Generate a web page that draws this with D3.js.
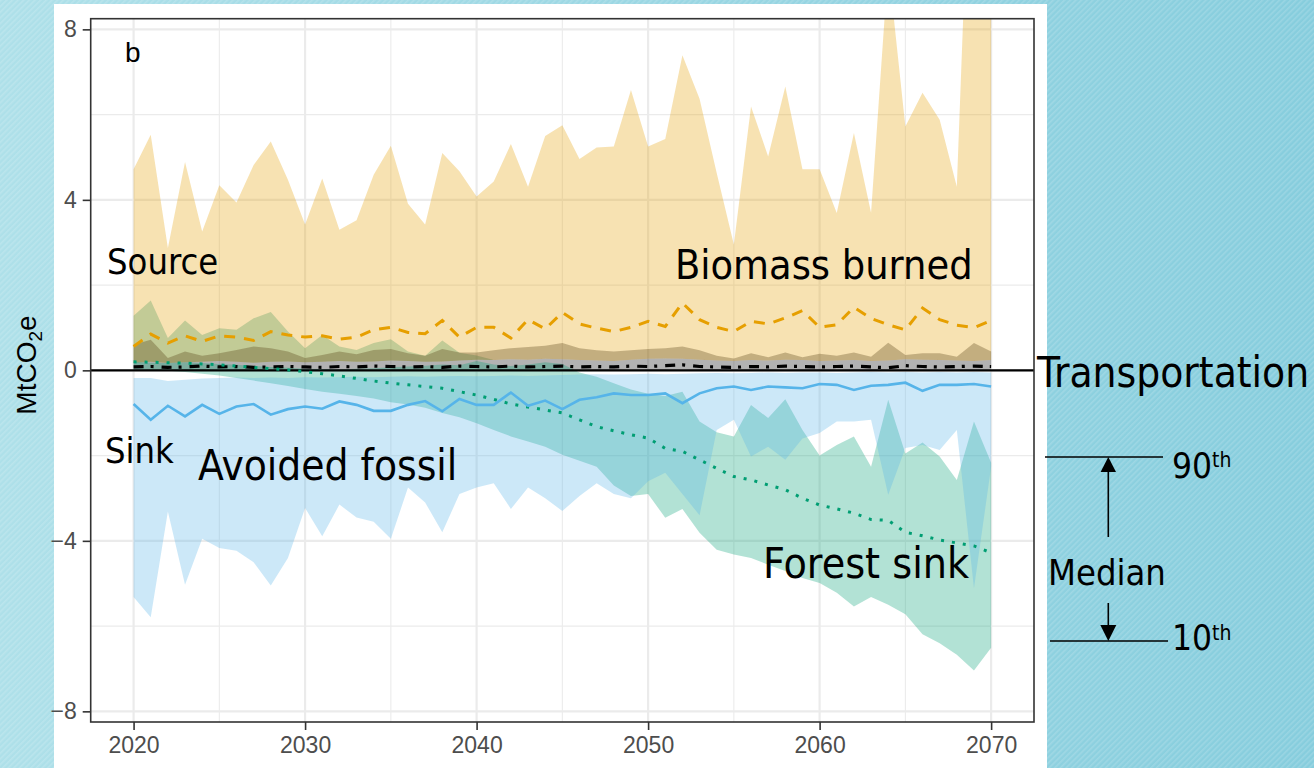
<!DOCTYPE html>
<html>
<head>
<meta charset="utf-8">
<script src="https://cdn.jsdelivr.net/npm/d3@7"></script>
<style>
  html, body { margin: 0; padding: 0; overflow: hidden; }
  svg { display: block; }
  .ann { font-family: "DejaVu Sans Condensed", "DejaVu Sans", sans-serif; font-stretch: condensed; fill: #000; }
  .tick text { font-family: "Liberation Sans", Arial, sans-serif; font-size: 23px; fill: #4d4d4d; }
</style>
</head>
<body>
<svg id="chart" width="1314" height="768"></svg>
<script>
// ---- data (MtCO2e per year; 10th percentile / median / 90th percentile) ----
const years = [2020,2021,2022,2023,2024,2025,2026,2027,2028,2029,
               2030,2031,2032,2033,2034,2035,2036,2037,2038,2039,
               2040,2041,2042,2043,2044,2045,2046,2047,2048,2049,
               2050,2051,2052,2053,2054,2055,2056,2057,2058,2059,
               2060,2061,2062,2063,2064,2065,2066,2067,2068,2069,2070];

const biomassHi = [4.72,5.53,2.87,4.89,3.26,4.34,3.94,4.82,5.37,4.47,
                   3.42,4.50,3.30,3.52,4.59,5.27,3.91,3.42,5.10,4.67,
                   4.08,4.43,5.31,4.31,5.50,5.75,4.96,5.23,5.25,6.58,
                   5.25,5.43,7.39,6.37,4.63,2.95,6.19,5.02,6.66,4.72,
                   4.72,3.69,5.57,3.70,9.50,5.72,6.51,5.88,4.31,15.0,12.0];
const biomassMed = [0.56,0.85,0.64,0.81,0.68,0.81,0.78,0.70,0.91,0.83,
                    0.78,0.81,0.73,0.78,0.95,1.01,0.89,0.86,1.17,0.78,
                    1.01,1.01,0.76,1.19,0.97,1.36,1.09,0.99,0.91,1.01,
                    1.15,1.03,1.58,1.19,1.01,0.91,1.15,1.09,1.23,1.40,
                    1.01,1.07,1.48,1.22,1.07,0.95,1.46,1.19,1.06,1.00,1.17];

const residueHi = [1.28,1.64,0.76,1.17,0.83,0.99,0.95,1.22,1.37,0.91,
                   0.52,0.83,0.56,0.48,0.64,0.73,0.44,0.34,0.70,0.41,
                   0.35,0.24,0.25,0.24,0.26,0.25,0.23,0.22,0.21,0.24,
                   0.26,0.27,0.26,0.24,0.22,0.21,0.23,0.22,0.24,0.23,
                   0.21,0.22,0.23,0.21,0.22,0.25,0.24,0.23,0.22,0.21,0.23];
const decayHi = [0.60,0.72,0.29,0.44,0.34,0.40,0.48,0.56,0.52,0.44,
                 0.29,0.36,0.44,0.38,0.48,0.50,0.40,0.34,0.50,0.42,
                 0.42,0.47,0.52,0.55,0.58,0.64,0.52,0.47,0.44,0.47,
                 0.50,0.52,0.56,0.47,0.34,0.28,0.40,0.31,0.42,0.31,
                 0.39,0.34,0.42,0.32,0.65,0.36,0.40,0.40,0.32,0.64,0.44];

const transportHi = [0.18,0.20,0.17,0.19,0.20,0.22,0.20,0.18,0.20,0.21,
                     0.19,0.20,0.22,0.20,0.21,0.23,0.22,0.20,0.21,0.23,
                     0.25,0.24,0.26,0.25,0.27,0.26,0.24,0.23,0.22,0.25,
                     0.27,0.28,0.27,0.25,0.23,0.22,0.24,0.23,0.25,0.24,
                     0.22,0.23,0.24,0.22,0.23,0.26,0.25,0.24,0.23,0.22,0.24];
const transportMed = [0.08,0.09,0.07,0.08,0.10,0.08,0.09,0.07,0.08,0.09,
                      0.08,0.07,0.09,0.08,0.10,0.09,0.08,0.09,0.07,0.10,
                      0.09,0.08,0.10,0.08,0.09,0.10,0.08,0.09,0.08,0.10,
                      0.09,0.11,0.13,0.09,0.08,0.07,0.09,0.08,0.10,0.09,
                      0.08,0.09,0.10,0.08,0.06,0.11,0.09,0.08,0.09,0.10,0.09];
const transportLo = [0.01,0.01,0.02,0.01,0.01,0.02,0.01,0.01,0.02,0.01,
                     0.01,0.02,0.01,0.01,0.02,0.01,0.01,0.02,0.01,0.01,
                     0.02,0.01,0.01,0.02,0.01,0.01,0.02,0.01,0.01,0.02,
                     0.01,0.01,0.02,0.01,0.01,0.02,0.01,0.01,0.02,0.01,
                     0.01,0.02,0.01,0.01,0.02,0.01,0.01,0.02,0.01,0.01,0.02];

const forestHi = [0.20,0.18,0.17,0.19,0.17,0.15,0.13,0.10,0.08,0.06,
                  0.04,0.03,0.02,0.04,0.05,0.07,0.09,0.11,0.14,0.12,
                  0.22,0.14,0.10,0.14,0.19,0.15,-0.05,-0.15,-0.30,-0.45,
                  -0.55,-0.60,-0.50,-1.20,-1.45,-1.55,-0.81,-1.12,-0.68,-1.40,
                  -2.00,-1.75,-1.55,-2.26,-0.69,-1.95,-1.69,-2.02,-2.57,-1.20,-2.17];
const forestMed = [0.20,0.19,0.18,0.17,0.15,0.13,0.10,0.07,0.04,0.01,
                   -0.03,-0.08,-0.13,-0.19,-0.25,-0.30,-0.34,-0.38,-0.42,-0.50,
                   -0.58,-0.68,-0.79,-0.86,-0.93,-1.00,-1.16,-1.32,-1.42,-1.51,
                   -1.59,-1.83,-1.90,-2.10,-2.30,-2.49,-2.57,-2.69,-2.80,-3.00,
                   -3.16,-3.25,-3.35,-3.50,-3.52,-3.80,-3.88,-3.98,-4.05,-4.12,-4.28];
const forestLo = [0.02,0.01,-0.01,-0.04,-0.08,-0.12,-0.18,-0.24,-0.30,-0.37,
                  -0.44,-0.50,-0.55,-0.60,-0.66,-0.75,-0.80,-0.88,-1.00,-1.10,
                  -1.24,-1.40,-1.55,-1.67,-1.79,-1.98,-2.12,-2.26,-2.70,-2.95,
                  -2.90,-3.46,-3.25,-3.81,-4.21,-4.32,-4.40,-4.56,-4.71,-4.87,
                  -4.99,-5.22,-5.54,-5.32,-5.50,-5.72,-6.19,-6.40,-6.67,-7.04,-6.51];

const fossilHi = [-0.18,-0.18,-0.25,-0.22,-0.19,-0.18,-0.17,-0.18,-0.17,-0.18,
                  -0.16,-0.17,-0.16,-0.15,-0.16,-0.15,-0.14,-0.15,-0.14,-0.13,
                  -0.14,-0.13,-0.12,-0.13,-0.12,-0.11,-0.10,-0.09,-0.10,-0.09,
                  -0.08,-0.09,-0.08,-0.07,-0.06,-0.07,-0.06,-0.05,-0.06,-0.05,
                  -0.05,-0.06,-0.05,-0.04,-0.05,-0.04,-0.05,-0.04,-0.05,-0.04,-0.05];
const fossilMed = [-0.79,-1.16,-0.83,-1.08,-0.81,-1.02,-0.85,-0.79,-1.04,-0.91,
                   -0.85,-0.90,-0.73,-0.81,-0.95,-0.95,-0.81,-0.72,-0.96,-0.67,
                   -0.81,-0.81,-0.52,-0.83,-0.71,-0.91,-0.69,-0.63,-0.54,-0.58,
                   -0.58,-0.54,-0.77,-0.54,-0.42,-0.38,-0.46,-0.38,-0.40,-0.42,
                   -0.32,-0.34,-0.46,-0.36,-0.34,-0.29,-0.48,-0.34,-0.34,-0.32,-0.38];
const fossilLo = [-5.32,-5.79,-3.31,-5.03,-3.95,-4.17,-4.23,-4.50,-5.05,-4.40,
                  -3.23,-3.89,-3.15,-3.45,-3.55,-3.95,-2.75,-3.10,-3.80,-2.90,
                  -2.75,-2.65,-3.25,-2.75,-3.00,-3.30,-2.95,-2.65,-2.90,-3.00,
                  -2.60,-2.40,-2.90,-3.40,-1.40,-1.16,-2.02,-1.79,-2.10,-1.60,
                  -1.47,-1.20,-1.20,-1.16,-2.92,-1.82,-1.75,-1.87,-1.40,-5.11,-2.26];

const xMajor = [2020, 2030, 2040, 2050, 2060, 2070];
const xMinor = [2025, 2035, 2045, 2055, 2065];
const yMajor = [-8, -4, 0, 4, 8];
const yMinor = [-6, -2, 2, 6];

// ---- layout ----
const W = 1314, H = 768;
const plot = { left: 90.7, top: 18.7, right: 1034, bottom: 722 };

const svg = d3.select("#chart");
const defs = svg.append("defs");

// slide background: aqua gradient with fine diagonal hatching
const grad = defs.append("linearGradient").attr("id", "bgGrad")
  .attr("x1", 0).attr("y1", 0).attr("x2", 1).attr("y2", 0);
grad.append("stop").attr("offset", "0%").attr("stop-color", "#aee0e9");
grad.append("stop").attr("offset", "100%").attr("stop-color", "#86cddd");
const hatch = defs.append("pattern").attr("id", "hatch")
  .attr("width", 4).attr("height", 4)
  .attr("patternUnits", "userSpaceOnUse")
  .attr("patternTransform", "rotate(45)");
hatch.append("rect").attr("width", 1.6).attr("height", 4).attr("fill", "#ffffff").attr("opacity", 0.16);

svg.append("rect").attr("width", W).attr("height", H).attr("fill", "url(#bgGrad)");
svg.append("rect").attr("width", W).attr("height", H).attr("fill", "url(#hatch)");

// white chart card
svg.append("rect").attr("x", 54).attr("y", 4).attr("width", 993).attr("height", H - 4).attr("fill", "#ffffff");

defs.append("clipPath").attr("id", "plotClip").append("rect")
  .attr("x", plot.left).attr("y", plot.top)
  .attr("width", plot.right - plot.left).attr("height", plot.bottom - plot.top);

const x = d3.scaleLinear().domain([2017.5, 2072.5]).range([plot.left, plot.right]);
const y = d3.scaleLinear().domain([-8.25, 8.25]).range([plot.bottom, plot.top]);

// grid
const grid = svg.append("g");
grid.selectAll(".gxm").data(xMinor).join("line")
  .attr("x1", d => x(d)).attr("x2", d => x(d)).attr("y1", plot.top).attr("y2", plot.bottom)
  .attr("stroke", "#ebebeb").attr("stroke-width", 1.1);
grid.selectAll(".gym").data(yMinor).join("line")
  .attr("x1", plot.left).attr("x2", plot.right).attr("y1", d => y(d)).attr("y2", d => y(d))
  .attr("stroke", "#ebebeb").attr("stroke-width", 1.1);
grid.selectAll(".gxM").data(xMajor).join("line")
  .attr("x1", d => x(d)).attr("x2", d => x(d)).attr("y1", plot.top).attr("y2", plot.bottom)
  .attr("stroke", "#ebebeb").attr("stroke-width", 2.2);
grid.selectAll(".gyM").data(yMajor).join("line")
  .attr("x1", plot.left).attr("x2", plot.right).attr("y1", d => y(d)).attr("y2", d => y(d))
  .attr("stroke", "#ebebeb").attr("stroke-width", 2.2);

const panel = svg.append("g").attr("clip-path", "url(#plotClip)");

function band(lo, hi, fill, alpha) {
  const a = d3.area()
    .x((d, i) => x(years[i]))
    .y0((d, i) => y(lo[i]))
    .y1((d, i) => y(Math.max(hi[i], lo[i])));
  panel.append("path").datum(years).attr("d", a)
    .attr("fill", fill).attr("fill-opacity", alpha).attr("stroke", "none");
}
function median(vals, color, width, dash) {
  const l = d3.line().x((d, i) => x(years[i])).y((d, i) => y(vals[i]));
  panel.append("path").datum(years).attr("d", l)
    .attr("fill", "none").attr("stroke", color).attr("stroke-width", width)
    .attr("stroke-dasharray", dash || null);
}

// percentile ribbons (10th–90th)
band(transportHi, biomassHi, "#E69F00", 0.3);
band(transportHi, residueHi, "#499657", 0.3);
band(transportHi, decayHi, "#4d350a", 0.3);
band(transportLo, transportHi, "#000000", 0.3);
band(forestLo, forestHi, "#009E73", 0.3);
band(fossilLo, fossilHi, "#56B4E9", 0.3);

// zero reference
panel.append("line").attr("x1", plot.left).attr("x2", plot.right)
  .attr("y1", y(0)).attr("y2", y(0)).attr("stroke", "#000").attr("stroke-width", 2.4);

// medians
median(biomassMed, "#E69F00", 3, "11,9");
median(transportMed, "#000000", 3.2, "10,7,3,8");
median(forestMed, "#009E73", 3, "3,8");
median(fossilMed, "#56B4E9", 2.6);

// panel border
svg.append("rect").attr("x", plot.left).attr("y", plot.top)
  .attr("width", plot.right - plot.left).attr("height", plot.bottom - plot.top)
  .attr("fill", "none").attr("stroke", "#333333").attr("stroke-width", 1.6);

// axes
const xAxis = d3.axisBottom(x).tickValues(xMajor).tickFormat(d3.format("d")).tickSize(8).tickPadding(7);
const yAxis = d3.axisLeft(y).tickValues(yMajor).tickFormat(d3.format("d")).tickSize(8).tickPadding(6);
const gx = svg.append("g").attr("transform", `translate(0,${plot.bottom})`).call(xAxis);
const gy = svg.append("g").attr("transform", `translate(${plot.left},0)`).call(yAxis);
[gx, gy].forEach(g => {
  g.select(".domain").remove();
  g.selectAll(".tick line").attr("stroke", "#333333").attr("stroke-width", 1.6);
});

// axis title
const yt = svg.append("text")
  .attr("transform", "translate(36,365) rotate(-90)")
  .attr("text-anchor", "middle")
  .style("font-family", "'Liberation Sans', Arial, sans-serif")
  .style("font-size", "28px").attr("fill", "#000");
yt.append("tspan").text("MtCO");
yt.append("tspan").attr("dy", 6).style("font-size", "19px").text("2");
yt.append("tspan").attr("dy", -6).text("e");

// panel tag
svg.append("text").attr("x", 125).attr("y", 62)
  .style("font-family", "'Liberation Sans', Arial, sans-serif").style("font-size", "28px")
  .attr("fill", "#000").text("b");

// annotations
const labels = [
  { t: "Source", x: 107, y: 274, s: 36 },
  { t: "Biomass burned", x: 675, y: 279, s: 41 },
  { t: "Transportation", x: 1037, y: 387, s: 42 },
  { t: "Sink", x: 105, y: 463, s: 36 },
  { t: "Avoided fossil", x: 198, y: 480, s: 42 },
  { t: "Forest sink", x: 763, y: 578, s: 42.5 },
  { t: "Median", x: 1048, y: 585, s: 36 }
];
svg.selectAll(".annLabel").data(labels).join("text")
  .attr("class", "ann").attr("x", d => d.x).attr("y", d => d.y)
  .style("font-size", d => d.s + "px").text(d => d.t);

const p90 = svg.append("text").attr("class", "ann").attr("x", 1172).attr("y", 478).style("font-size", "35px");
p90.append("tspan").text("90");
p90.append("tspan").attr("dy", -11).style("font-size", "21px").text("th");
const p10 = svg.append("text").attr("class", "ann").attr("x", 1172).attr("y", 650).style("font-size", "35px");
p10.append("tspan").text("10");
p10.append("tspan").attr("dy", -10).style("font-size", "21px").text("th");

// percentile key
const key = svg.append("g").attr("stroke", "#000").attr("stroke-width", 1.6);
key.append("line").attr("x1", 1045).attr("x2", 1163).attr("y1", 457).attr("y2", 457);
key.append("line").attr("x1", 1050).attr("x2", 1168).attr("y1", 641).attr("y2", 641);
key.append("line").attr("x1", 1108.3).attr("x2", 1108.3).attr("y1", 470).attr("y2", 537);
key.append("line").attr("x1", 1108.3).attr("x2", 1108.3).attr("y1", 603).attr("y2", 627);
key.append("path").attr("d", "M1108.3,457L1100.6,472L1116,472Z").attr("fill", "#000").attr("stroke", "none");
key.append("path").attr("d", "M1108.3,641L1100.3,625L1116.3,625Z").attr("fill", "#000").attr("stroke", "none");
</script>
</body>
</html>
